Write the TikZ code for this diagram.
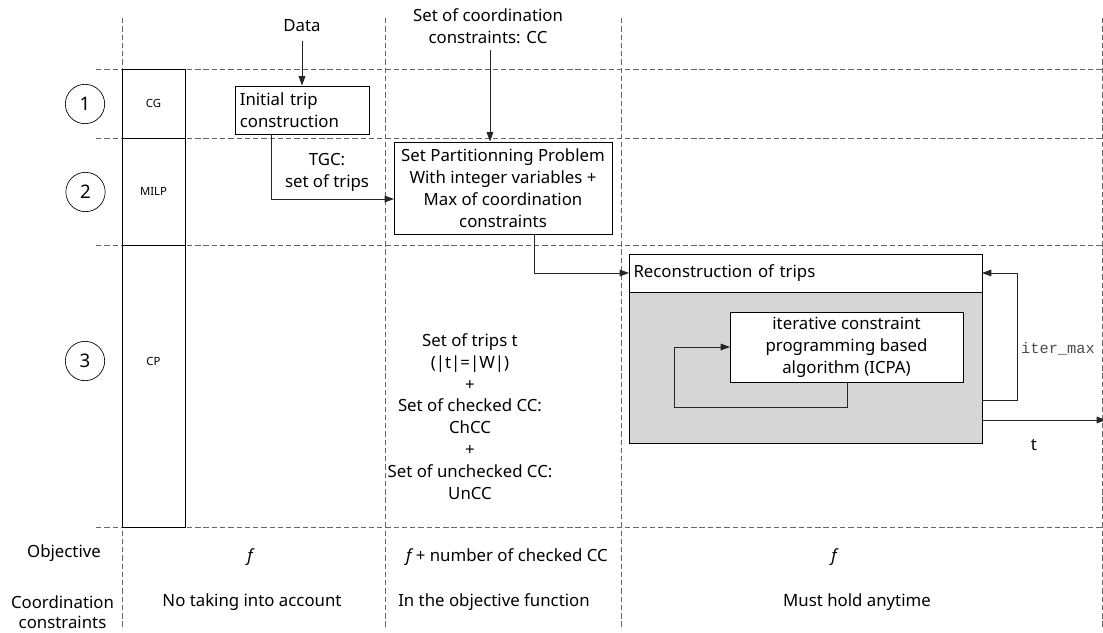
\documentclass[tikz,border=0pt]{standalone}
\usepackage{fontspec}
\setmainfont{Noto Sans}
\setmonofont{Liberation Mono}
\usetikzlibrary{arrows.meta}
\tikzset{
  x=0.75pt,y=-0.75pt,
  guide/.style={draw=black!60,line width=0.5pt,dash pattern=on 4pt off 2.2pt},
  box/.style={draw=black,line width=0.7pt,fill=white,inner sep=0pt,outer sep=0pt,rectangle},
  lane/.style={draw=black,line width=0.7pt,inner sep=0pt,outer sep=0pt,font=\fontsize{8.5}{10}\selectfont},
  num/.style={draw=black,circle,line width=0.5pt,minimum size=29.5pt,inner sep=0pt,font=\fontsize{14}{16}\selectfont},
  lab/.style={align=center,inner sep=0pt,font=\fontsize{12.6}{16.4}\selectfont},
  conn/.style={draw=black!85,line width=0.6pt,-{Triangle[length=7pt,width=5pt]}},
}
\begin{document}
\begin{tikzpicture}
\useasboundingbox (0,0) rectangle (1103,632);
% guides
\foreach \yy in {69,138,245,527}{\draw[guide] (96,\yy) -- (1103,\yy);}
\draw[guide] (122,18) -- (122,627);
\draw[guide] (385,18) -- (385,627);
\draw[guide] (621,18) -- (621,627);
\draw[guide] (1102,18) -- (1102,627);
% lanes
\node[lane,minimum width=47.25pt,minimum height=51.75pt] (cg) at (153.5,103.5) {CG};
\node[lane,minimum width=47.25pt,minimum height=80.25pt] (milp) at (153.5,191.5) {MILP};
\node[lane,minimum width=47.25pt,minimum height=211.5pt] (cp) at (153.5,386) {};
\node[font=\fontsize{8.5}{10}\selectfont,inner sep=0pt] (cptxt) at (153.5,361) {CP};
\node[num] (n1) at (85,104) {1};
\node[num] (n2) at (85.5,192) {2};
\node[num] (n3) at (85,361) {3};
% boxes
\node[box,minimum width=100pt,minimum height=36pt,lab,align=left,text width=94pt] (init) at (302.5,110) {Initial trip\\construction};
\node[box,minimum width=163.5pt,minimum height=69pt,lab] (spp) at (503,188) {Set Partitionning Problem\\With integer variables +\\Max of coordination\\constraints};
\node[box,minimum width=264.75pt,minimum height=28.5pt,lab,align=left,text width=258pt] (rec) at (805.5,273) {Reconstruction of trips};
\node[box,fill=black!16,minimum width=264.75pt,minimum height=113.25pt] (gray) at (805.5,367.5) {};
\node[box,minimum width=174.75pt,minimum height=52.5pt,lab] (icpa) at (846.5,347) {iterative constraint\\programming based\\algorithm (ICPA)};
% text
\node[lab] (data) at (302,26) {Data};
\node[lab] (cc) at (488,26) {Set of coordination\\constraints: CC};
\node[lab] (tgc) at (327,172) {TGC:\\set of trips};
\node[lab] (sets) at (470,416.5) {Set of trips t\\(|t|=|W|)\\+\\Set of checked CC:\\ChCC\\+\\Set of unchecked CC:\\UnCC};
\node[lab,font=\fontsize{11.5}{13}\ttfamily,text=black!70] (iter) at (1058,349) {iter\_max};
\node[lab] (tout) at (1034,445) {t};
\node[lab] (obj) at (64,553) {Objective};
\node[lab] (f1) at (250,557) {\itshape f};
\node[lab] (f2) at (507,557) {\itshape f\upshape{} + number of checked CC};
\node[lab] (f3) at (834,557) {\itshape f};
\node[lab,font=\fontsize{12.6}{15}\selectfont] (co) at (62.5,612.5) {Coordination\\constraints};
\node[lab] (c1) at (252,602.5) {No taking into account};
\node[lab] (c2) at (494,602.5) {In the objective function};
\node[lab] (c3) at (857,602.5) {Must hold anytime};
% connectors
\coordinate (a1) at (302,41);
\draw[conn] (a1) -- (302,85.5);
\coordinate (a2) at (490,50);
\draw[conn] (a2) -- (490,141.5);
\draw[conn] (271,134) |- (spp.west |- 0,199);
\draw[conn] (534,234) |- (rec.west);
\coordinate (loopb) at (982,400);
\draw[conn] (loopb) -- (1017,400) |- (rec.east);
\draw[conn] (847,382) -- (847,407) -- (674,407) |- (icpa.west);
\coordinate (outa) at (982,420);
\coordinate (outb) at (1106,420);
\draw[conn] (outa) -- (outb);
\end{tikzpicture}
\end{document}
